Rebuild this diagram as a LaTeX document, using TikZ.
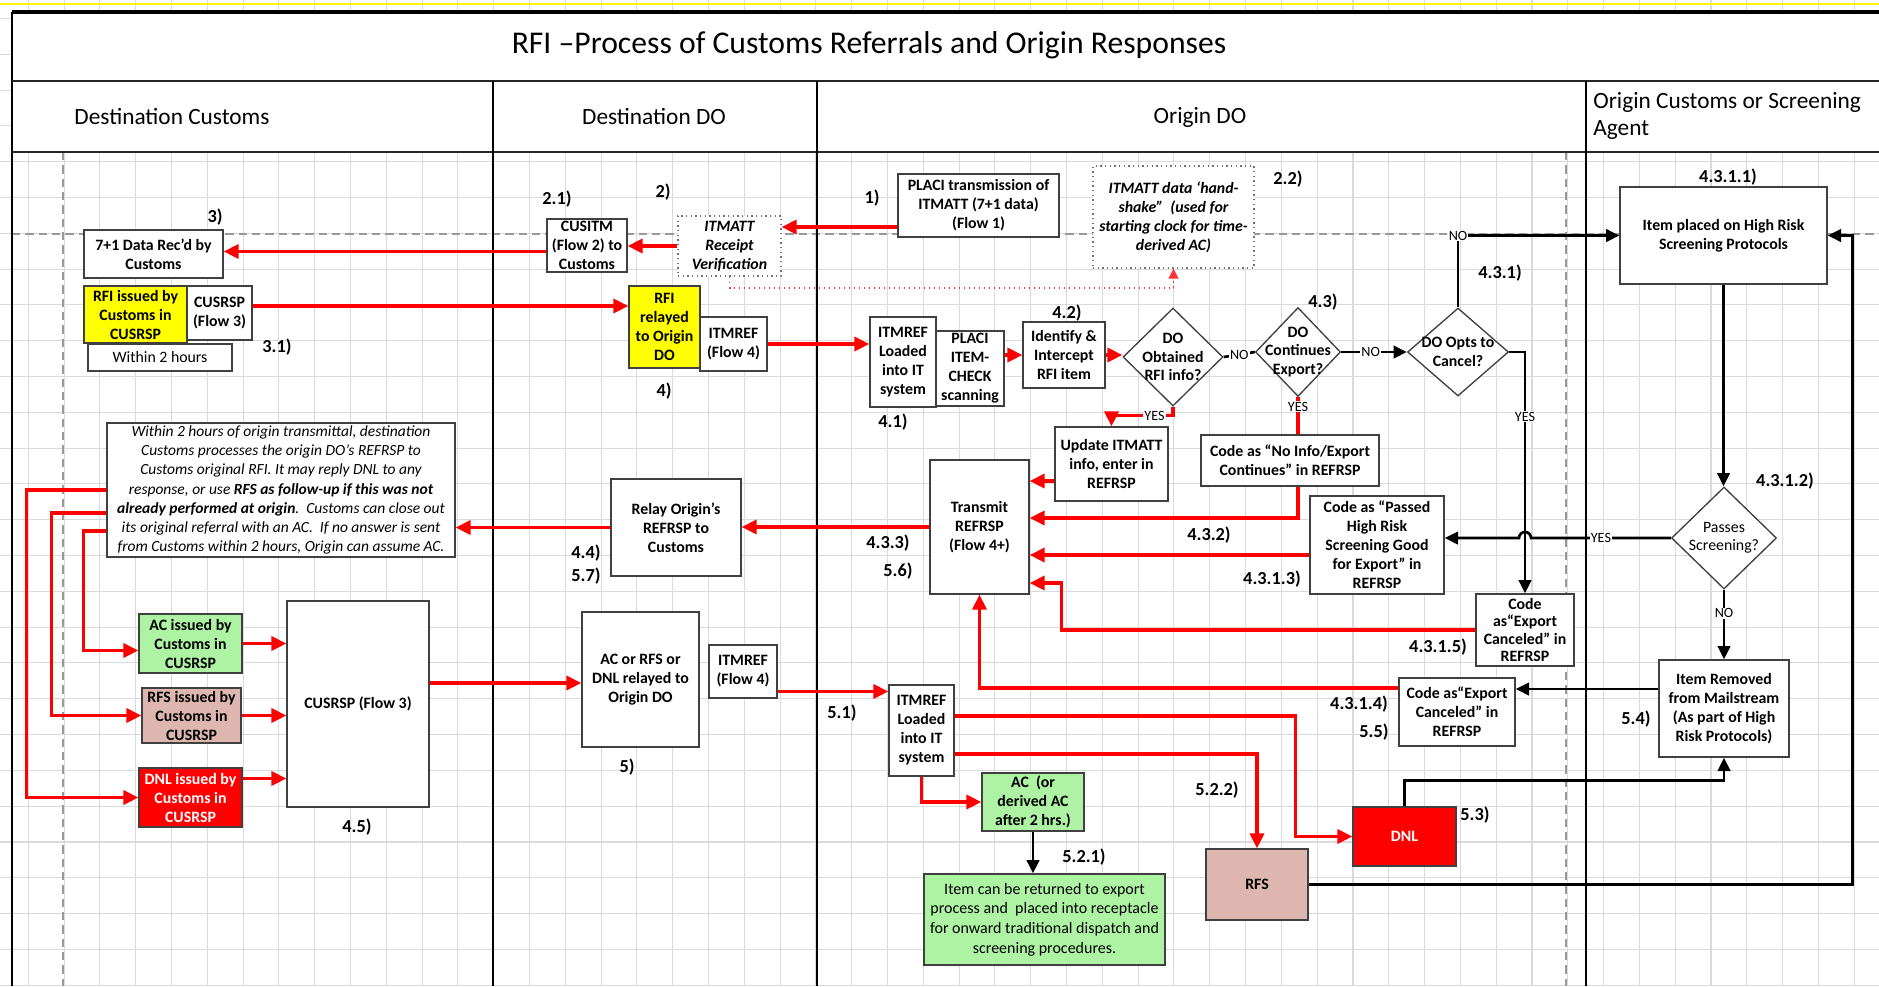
\documentclass[tikz,border=0pt]{standalone}
\usepackage{fontspec}
\setmainfont{Carlito}
\usepackage{tikz}
\usetikzlibrary{shapes.geometric, arrows.meta, calc, positioning}
\definecolor{rfiyellow}{HTML}{FFFF00}
\definecolor{acgreen}{HTML}{ADF3A3}
\definecolor{rfspink}{HTML}{DDB7AF}
\definecolor{dnlred}{HTML}{FF0000}
\definecolor{gridgray}{HTML}{DADADA}
\tikzstyle{box} = [draw=black!75, line width=0.8pt, fill=white, align=center, inner sep=0.5pt, font=\fontsize{9.5}{11.4}\selectfont\bfseries]
\tikzstyle{dbox} = [box, draw=black!55, dotted, font=\fontsize{9.5}{11.4}\selectfont\bfseries\itshape]
\tikzstyle{dia} = [diamond, draw=black!75, line width=0.8pt, fill=white, inner sep=0pt]
\tikzstyle{dtext} = [align=center, inner sep=0pt, font=\fontsize{9.5}{11}\selectfont\bfseries]
\tikzstyle{num} = [inner sep=0pt, font=\fontsize{11}{13}\selectfont\bfseries]
\tikzstyle{yn} = [fill=white, inner sep=0.6pt, font=\fontsize{8.5}{9}\selectfont]
\tikzstyle{lane} = [inner sep=0pt, font=\fontsize{14}{16}\selectfont]
\tikzstyle{rline} = [draw=dnlred, line width=1.9pt]
\tikzstyle{rarr} = [rline, -{Triangle[length=9pt,width=8.5pt]}]
\tikzstyle{bline} = [draw=black, line width=1.6pt]
\tikzstyle{barr} = [bline, -{Triangle[length=8pt,width=7.5pt]}]
\tikzstyle{rdot} = [draw=dnlred!80, line width=1pt, dotted, -{Triangle[length=6pt,width=6pt]}]
\tikzstyle{gridl} = [draw=gridgray, line width=0.7pt]
\tikzstyle{dashl} = [draw=black!40, line width=0.7pt, dash pattern=on 5pt off 3pt]
\tikzset{wh/.style 2 args={minimum width=#1*0.6pt, minimum height=#2*0.6pt}}

\begin{document}
\begin{tikzpicture}[x=0.6pt, y=-0.6pt]
	\useasboundingbox (0,0) rectangle (1879,986);
	\fill[white] (0,0) rectangle (1879,986);
	
	\foreach \i in {0,...,52}
		\path [gridl] ({-7.5+35.8*\i},0) -- ({-7.5+35.8*\i},986);
	\foreach \j in {-4,...,23}
		\path [gridl] (0,{161.7+35.8*\j}) -- (1879,{161.7+35.8*\j});
	\fill[white] (12,12) rectangle (1879,152);
	\path [draw=yellow!90, line width=1.4pt] (0,4) -- (1879,4);
	
	\path [dashl] (63,152) -- (63,986);
	\path [dashl] (1566,152) -- (1566,986);
	\path [dashl] (12,234) -- (1879,234);
	
	\path [draw, line width=2.4pt] (12,12) -- (1879,12);
	\path [draw, line width=1.4pt] (12,12) -- (12,986);
	\path [draw=black!85, line width=1.6pt] (12,81) -- (1879,81);
	\path [draw=black!85, line width=1.6pt] (12,152) -- (1879,152);
	\path [draw, line width=1pt] (493,81) -- (493,986);
	\path [draw, line width=1pt] (817,81) -- (817,986);
	\path [draw, line width=1pt] (1586,81) -- (1586,986);
	
	\node [font=\fontsize{19}{22}\selectfont] (title) at (869,45) {RFI –Process of Customs Referrals and Origin Responses};
	\node [lane] (h1) at (172,117) {Destination Customs};
	\node [lane] (h2) at (654,117) {Destination DO};
	\node [lane] (h3) at (1200,117) {Origin DO};
	\node [lane, anchor=west, align=left] (h4) at (1593,116) {Origin Customs or Screening\\Agent};
	
	\node [box, wh={139}{48}] (rec) at (153.5,254) {7+1 Data Rec’d by\\Customs};
	\node [box, wh={103}{57}, fill=rfiyellow] (rfi) at (135.5,314.5) {RFI issued by\\Customs in\\CUSRSP};
	\node [box, wh={65}{54}] (cus1) at (219.5,313) {CUSRSP\\(Flow 3)};
	\node [box, wh={144}{27}, font=\fontsize{9.5}{11.4}\selectfont] (within) at (160,357.5) {Within 2 hours};
	\node [box, wh={348}{134}, font=\fontsize{9.3}{11.5}\selectfont\itshape] (note) at (281,490) {Within 2 hours of origin transmittal, destination\\Customs processes the origin DO’s REFRSP to\\Customs original RFI. It may reply DNL to any\\response, or use \textbf{RFS as follow-up if this was not}\\\textbf{already performed at origin}.\ \ Customs can close out\\its original referral with an AC.\ \ If no answer is sent\\from Customs within 2 hours, Origin can assume AC.};
	\node [box, wh={103}{59}, fill=acgreen] (acis) at (190.5,643.5) {AC issued by\\Customs in\\CUSRSP};
	\node [box, wh={99}{55}, fill=rfspink] (rfsis) at (191.5,715.5) {RFS issued by\\Customs in\\CUSRSP};
	\node [box, wh={103}{59}, fill=dnlred, text=white] (dnlis) at (190.5,797.5) {DNL issued by\\Customs in\\CUSRSP};
	\node [box, wh={142}{206}] (cus2) at (358,704) {CUSRSP (Flow 3)};
	
	\node [box, wh={80}{53}] (cusitm) at (587,245.5) {CUSITM\\(Flow 2) to\\Customs};
	\node [dbox, wh={103}{60}] (itmrv) at (729.5,246) {ITMATT\\Receipt\\Verification};
	\node [box, wh={71}{82}, fill=rfiyellow] (relayed) at (664.5,327) {RFI\\relayed\\to Origin\\DO};
	\node [box, wh={67}{54}] (itmref1) at (733.5,344) {ITMREF\\(Flow 4)};
	\node [box, wh={130}{97}] (relay) at (676,527.5) {Relay Origin’s\\REFRSP to\\Customs};
	\node [box, wh={117}{135}] (acrel) at (640.5,679.5) {AC or RFS or\\DNL relayed to\\Origin DO};
	\node [box, wh={68}{53}] (itmref2) at (743,671.5) {ITMREF\\(Flow 4)};
	
	\node [box, wh={161}{63}] (placi) at (978.5,205.5) {PLACI transmission of\\ITMATT (7+1 data)\\(Flow 1)};
	\node [dbox, wh={161}{102}] (hand) at (1173.5,217) {ITMATT data ‘hand-\\shake”\ \ (used for\\starting clock for time-\\derived AC)};
	\node [box, wh={66}{90}] (load1) at (903,362) {ITMREF\\Loaded\\into IT\\system};
	\node [box, wh={68}{75}] (scan) at (970,368.5) {PLACI\\ITEM-\\CHECK\\scanning};
	\node [box, wh={82}{66}] (ident) at (1064,355) {Identify \&\\Intercept\\RFI item};
	\node [dia, wh={100}{98}, label={[dtext]center:{DO\\Obtained\\RFI info?}}] (d1) at (1173,357) {};
	\node [dia, wh={85}{89}, label={[dtext]center:{DO\\Continues\\Export?}}] (d2) at (1298,352) {};
	\node [dia, wh={101}{88}, label={[dtext]center:{DO Opts to\\Cancel?}}] (d3) at (1458,352) {};
	\node [box, wh={113}{74}] (update) at (1111.5,464) {Update ITMATT\\info, enter in\\REFRSP};
	\node [box, wh={178}{51}] (noinfo) at (1290,460.5) {Code as “No Info/Export\\Continues” in REFRSP};
	\node [box, wh={99}{134}] (trans) at (979.5,527) {Transmit\\REFRSP\\(Flow 4+)};
	\node [box, wh={134}{98}] (passed) at (1377,545) {Code as “Passed\\High Risk\\Screening Good\\for Export” in\\REFRSP};
	\node [box, wh={98}{72}, font=\fontsize{9.5}{10.5}\selectfont\bfseries] (canc1) at (1525,630) {Code\\as“Export\\Canceled” in\\REFRSP};
	\node [box, wh={116}{68}] (canc2) at (1457,712) {Code as“Export\\Canceled” in\\REFRSP};
	\node [box, wh={65}{91}] (load2) at (921.5,730.5) {ITMREF\\Loaded\\into IT\\system};
	\node [box, wh={102}{58}, fill=acgreen] (acder) at (1033,802) {AC\ \ (or\\derived AC\\after 2 hrs.)};
	\node [box, wh={241}{91}, fill=acgreen, font=\fontsize{9.6}{11.8}\selectfont] (ret) at (1044.5,919.5) {Item can be returned to export\\process and\ \ placed into receptacle\\for onward traditional dispatch and\\screening procedures.};
	\node [box, wh={102}{71}, fill=rfspink] (rfs) at (1257,884.5) {RFS};
	\node [box, wh={103}{59}, fill=dnlred, text=white] (dnl) at (1404.5,836.5) {DNL};
	
	\node [box, wh={207}{97}] (placed) at (1723.5,235.5) {Item placed on High Risk\\Screening Protocols};
	\node [dia, wh={105}{102}, label={[dtext, font=\fontsize{9.5}{11}\selectfont]center:{Passes\\Screening?}}] (d4) at (1724,538) {};
	\node [box, wh={130}{97}] (removed) at (1724,708.5) {Item Removed\\from Mailstream\\(As part of High\\Risk Protocols)};
	
	\node [num] (n3) at (215,217) {3)};
	\node [num] (n31) at (277,347) {3.1)};
	\node [num] (n45) at (357,827) {4.5)};
	\node [num] (n21) at (557,199) {2.1)};
	\node [num] (n2) at (663,192) {2)};
	\node [num] (n4) at (664,391) {4)};
	\node [num] (n44) at (586,553) {4.4)};
	\node [num] (n57) at (586,576) {5.7)};
	\node [num] (n5) at (627,767) {5)};
	\node [num] (n1) at (872,198) {1)};
	\node [num] (n22) at (1288,179) {2.2)};
	\node [num] (n41) at (893,422) {4.1)};
	\node [num] (n42) at (1067,313) {4.2)};
	\node [num] (n43) at (1323,302) {4.3)};
	\node [num] (n431) at (1500,273) {4.3.1)};
	\node [num] (n432) at (1209,535) {4.3.2)};
	\node [num] (n4313) at (1272,579) {4.3.1.3)};
	\node [num] (n433) at (888,543) {4.3.3)};
	\node [num] (n56) at (898,571) {5.6)};
	\node [num] (n4315) at (1438,647) {4.3.1.5)};
	\node [num] (n4314) at (1359,704) {4.3.1.4)};
	\node [num] (n55) at (1374,732) {5.5)};
	\node [num] (n51) at (842,713) {5.1)};
	\node [num] (n521) at (1084,857) {5.2.1)};
	\node [num] (n522) at (1217,790) {5.2.2)};
	\node [num] (n53) at (1475,815) {5.3)};
	\node [num] (n54) at (1636,719) {5.4)};
	\node [num] (n4311) at (1728,177) {4.3.1.1)};
	\node [num] (n4312) at (1785,481) {4.3.1.2)};
	
	\path [rarr] ($(placi.west)+(0,21.5)$) coordinate (c1) -- (c1 -| itmrv.east);
	\path [rarr] (itmrv.west) -- (itmrv.west -| cusitm.east);
	\path [rarr] ($(cusitm.west)+(0,6)$) coordinate (c2) -- (c2 -| rec.east);
	\path [rarr] ($(cus1.east)+(0,-7)$) coordinate (c3) -- (c3 -| relayed.west);
	\path [rarr] (itmref1.east) -- (itmref1.east -| load1.west);
	\path [rarr] (scan.east |- ident.west) -- (ident.west);
	\path [rarr] (ident.east) -- (ident.east -| d1.west);
	\path [rdot] (itmrv.south) -- ++(0,11) -| (hand.south);
	\path [bline] (d1.east) -- node[yn] {NO} (d2.west);
	\path [barr] (d2.east) -- node[yn, pos=0.45] {NO} (d3.west);
	\path [barr] (d3.north) |- node[yn, pos=0.5] {NO} (placed.west);
	\path [barr] (d3.east) -| node[yn, pos=0.634] {YES} (canc1.north);
	\path [rarr] (d1.south) -- ++(0,9) -| node[yn, pos=0.15] {YES} (update.north);
	\path [rline] (d2.south) -- node[yn, pos=0.26] {YES} (d2.south |- noinfo.north);
	\path [rarr] (d2.south |- noinfo.south) |- ($(trans.east)+(0,-9)$);
	\path [rarr] ($(update.west)+(0,17)$) coordinate (c4) -- (c4 -| trans.east);
	\path [rarr] ($(passed.west)+(0,10)$) coordinate (c5) -- (c5 -| trans.east);
	\path [rarr] (canc1.west) -| ($(trans.east)+(32,56)$) -- ($(trans.east)+(0,56)$);
	\path [rarr] ($(canc2.west)+(0,-24)$) -| (trans.south);
	\path [rarr] (trans.west) -- (trans.west -| relay.east);
	\path [rarr] (relay.west) -- (relay.west -| note.east);
	\path [rarr] (note.west) -- ++(-80,0) |- (dnlis.west);
	\path [rarr] ($(note.west)+(0,23)$) -- ++(-55,0) |- (rfsis.west);
	\path [rarr] ($(note.west)+(0,41)$) -- ++(-23,0) |- ($(acis.west)+(0,7)$);
	\path [rarr] (acis.east) -- (acis.east -| cus2.west);
	\path [rarr] (rfsis.east) -- (rfsis.east -| cus2.west);
	\path [rarr] ($(dnlis.east)+(0,-19)$) coordinate (c6) -- (c6 -| cus2.west);
	\path [rarr] ($(cus2.east)+(0,-21)$) coordinate (c7) -- (c7 -| acrel.west);
	\path [rarr] ($(itmref2.east)+(0,20)$) coordinate (c8) -- (c8 -| load2.west);
	\path [rarr] ($(load2.east)+(0,-14.5)$) -| ($(dnl.west)+(-57,0)$) -- (dnl.west);
	\path [rarr] ($(load2.east)+(0,23.5)$) -| (rfs.north);
	\path [rarr] (load2.south) |- (acder.west);
	\path [barr] (acder.south) -- (acder.south |- ret.north);
	\path [barr] (dnl.north) -- ++(0,-26) -| (removed.south);
	\path [barr] (rfs.east) -| ($(placed.east)+(25,0)$) -- (placed.east);
	\path [barr] (placed.south) -- (placed.south |- d4.north);
	\path [barr] (d4.south) -- node[yn, pos=0.34] {NO} (removed.north);
	\path [barr] (d4.west) -- node[yn, pos=0.5] {YES} ($(d4.west -| canc1.north)+(6,0)$) arc[start angle=0, end angle=180, radius=3.6pt] -- (d4.west -| passed.east);
	\path [barr] ($(removed.west)+(0,-19.5)$) coordinate (c9) -- (c9 -| canc2.east);
\end{tikzpicture}
\end{document}
